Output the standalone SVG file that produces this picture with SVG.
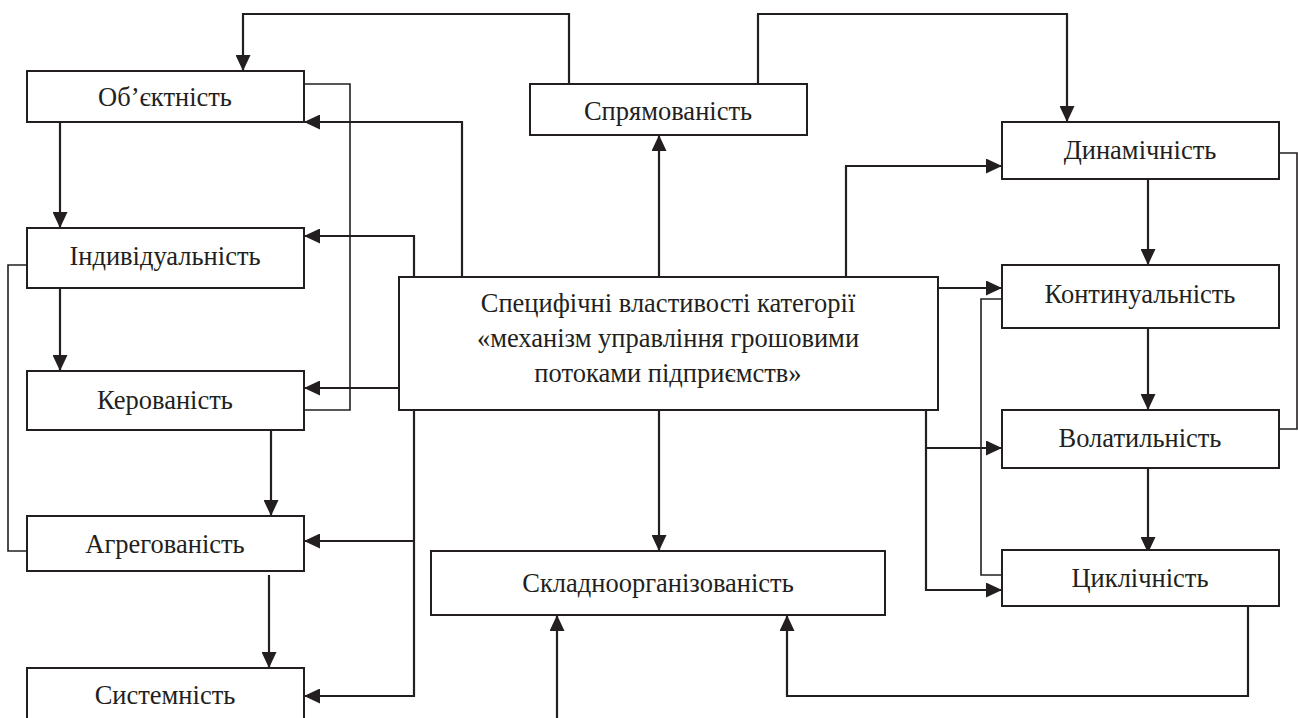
<svg xmlns="http://www.w3.org/2000/svg" width="1298" height="718" viewBox="0 0 1298 718">
<style>
.box{fill:#fff;stroke:#231f20;stroke-width:2}
.t{font-family:"Liberation Serif","Times New Roman",serif;font-size:26.5px;fill:#231f20;text-anchor:middle}
.a{fill:none;stroke:#231f20;stroke-width:2.2;marker-end:url(#ah)}
.l{fill:none;stroke:#231f20;stroke-width:1.6}
</style>
<defs>
<marker id="ah" markerWidth="16" markerHeight="15" refX="16" refY="7.5" orient="auto" markerUnits="userSpaceOnUse">
<path d="M0,0 L16,7.5 L0,15 Z" fill="#231f20"/>
</marker>
</defs>
<rect width="1298" height="718" fill="#fff"/>
<g id="connectors">
<path class="a" d="M569,84 V14 H243 V71"/>
<path class="a" d="M758,84 V14 H1067 V122"/>
<path class="a" d="M659,277 V135"/>
<path class="a" d="M659,410 V551"/>
<path class="a" d="M557,718 V615"/>
<path class="a" d="M1248,606 V696 H787 V615"/>
<path class="a" d="M462,277 V122 H304"/>
<path class="a" d="M414,277 V236 H304"/>
<path class="a" d="M399,388 H304"/>
<path class="a" d="M414,410 V696 H304"/>
<path class="a" d="M414,541 H304"/>
<path class="a" d="M846,277 V166 H1002"/>
<path class="a" d="M938,288 H1002"/>
<path class="a" d="M926,410 V590 H1002"/>
<path class="a" d="M926,448 H1002"/>
<path class="a" d="M60,122 V228"/>
<path class="a" d="M60,288 V371"/>
<path class="a" d="M271,430 V516"/>
<path class="a" d="M269,575 V668"/>
<path class="a" d="M1148,179 V265"/>
<path class="a" d="M1148,328 V410"/>
<path class="a" d="M1148,468 V553"/>
<path class="l" d="M304,84 H350 V410 H304"/>
<path class="l" d="M27,265 H8 V551 H27"/>
<path class="l" d="M1279,153 H1297 V429 H1279"/>
<path class="l" d="M1002,299 H981 V575 H1002"/>
</g>
<g id="n-obiektnist"><rect class="box" x="27" y="71" width="277" height="51"/><text class="t" x="165" y="106">Об’єктність</text></g>
<g id="n-indyvidualnist"><rect class="box" x="27" y="228" width="277" height="60"/><text class="t" x="165" y="265">Індивідуальність</text></g>
<g id="n-kerovanist"><rect class="box" x="27" y="371" width="277" height="59"/><text class="t" x="165" y="409">Керованість</text></g>
<g id="n-ahrehovanist"><rect class="box" x="27" y="516" width="277" height="55"/><text class="t" x="165" y="553">Агрегованість</text></g>
<g id="n-systemnist"><rect class="box" x="27" y="668" width="277" height="60"/><text class="t" x="165" y="704">Системність</text></g>
<g id="n-spriamovanist"><rect class="box" x="530" y="84" width="277" height="51"/><text class="t" x="668" y="120">Спрямованість</text></g>
<g id="n-center"><rect class="box" x="399" y="277" width="539" height="133"/>
<text class="t" x="668" y="312">Специфічні властивості категорії</text>
<text class="t" x="668" y="347">«механізм управління грошовими</text>
<text class="t" x="668" y="382">потоками підприємств»</text></g>
<g id="n-skladno"><rect class="box" x="431" y="551" width="454" height="64"/><text class="t" x="658" y="592">Складноорганізованість</text></g>
<g id="n-dynamichnist"><rect class="box" x="1002" y="122" width="277" height="57"/><text class="t" x="1140" y="159">Динамічність</text></g>
<g id="n-kontynualnist"><rect class="box" x="1002" y="265" width="277" height="63"/><text class="t" x="1140" y="303">Континуальність</text></g>
<g id="n-volatylnist"><rect class="box" x="1002" y="410" width="277" height="58"/><text class="t" x="1140" y="447">Волатильність</text></g>
<g id="n-tsyklichnist"><rect class="box" x="1002" y="550" width="277" height="56"/><text class="t" x="1140" y="587">Циклічність</text></g>
</svg>
